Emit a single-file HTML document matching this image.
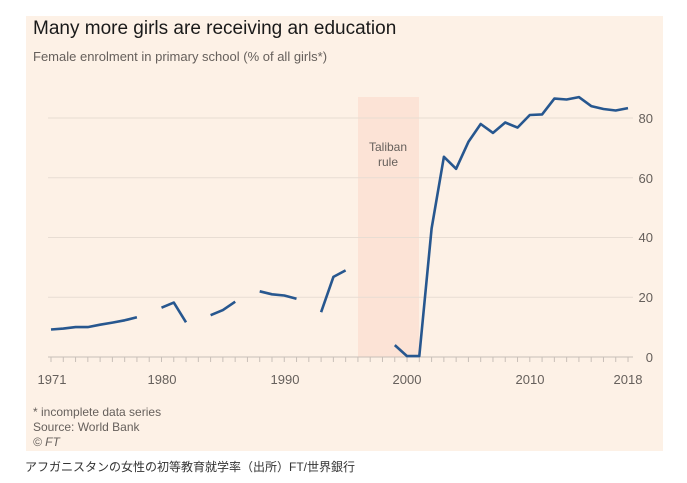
<!DOCTYPE html>
<html><head><meta charset="utf-8"><style>
body{margin:0;background:#fff;}
</style></head><body>
<svg width="687" height="483" xmlns="http://www.w3.org/2000/svg" style="display:block">
<rect x="26" y="16" width="637" height="435" fill="#fdf1e6"/>
<rect x="358" y="97" width="61" height="260" fill="#fce3d6"/>
<g font-family="Liberation Sans, sans-serif">
<text x="33" y="34" font-size="19" fill="#1a1a1a">Many more girls are receiving an education</text>
<text x="33" y="61" font-size="13" fill="#66605c">Female enrolment in primary school (% of all girls*)</text>
<g stroke="#e8ddd3" stroke-width="1">
<line x1="48" x2="633" y1="297.2" y2="297.2"/>
<line x1="48" x2="633" y1="237.5" y2="237.5"/>
<line x1="48" x2="633" y1="177.7" y2="177.7"/>
<line x1="48" x2="633" y1="118" y2="118"/>
</g>
<line x1="48" x2="633" y1="357" y2="357" stroke="#c8bfb8"/>
<g stroke="#c8bfb8" id="ticks"></g>
<text x="388" y="151" font-size="12" fill="#66605c" text-anchor="middle">Taliban</text>
<text x="388" y="166" font-size="12" fill="#66605c" text-anchor="middle">rule</text>
<g font-size="13" fill="#66605c" text-anchor="middle">
<text x="52" y="384">1971</text><text x="162" y="384">1980</text><text x="285" y="384">1990</text><text x="407" y="384">2000</text><text x="530" y="384">2010</text><text x="628" y="384">2018</text>
</g>
<g font-size="13" fill="#66605c" text-anchor="end">
<text x="653" y="362">0</text><text x="653" y="302">20</text><text x="653" y="242">40</text><text x="653" y="183">60</text><text x="653" y="123">80</text>
</g>
<g font-size="12" fill="#66605c">
<text x="33" y="416">* incomplete data series</text>
<text x="33" y="431">Source: World Bank</text>
<text x="33" y="446" font-style="italic">© FT</text>
</g>
<text x="25" y="471" font-size="12" fill="#333" font-family="Liberation Sans, Noto Sans CJK JP, sans-serif">アフガニスタンの女性の初等教育就学率（出所）FT/世界銀行</text>
</g>
<g fill="none" stroke="#27578f" stroke-width="2.6" stroke-linejoin="round" id="lines"></g>
<script>
var X=y=>51+(y-1971)*12.277, Y=v=>357-2.9875*v;
var segs=[[[1971,9.2],[1972,9.5],[1973,10],[1974,10],[1975,10.8],[1976,11.5],[1977,12.3],[1978,13.3]],
[[1980,16.5],[1981,18.2],[1982,11.6]],[[1984,14],[1985,15.7],[1986,18.5]],
[[1988,22],[1989,21],[1990,20.6],[1991,19.5]],[[1993,15],[1994,26.8],[1995,29]],
[[1999,4],[2000,0.3],[2001,0.3],[2002,43],[2003,67],[2004,63],[2005,72],[2006,78],[2007,75],[2008,78.5],[2009,76.8],[2010,81],[2011,81.2],[2012,86.5],[2013,86.2],[2014,87],[2015,84],[2016,83],[2017,82.5],[2018,83.3]]];
var ns="http://www.w3.org/2000/svg",g=document.getElementById('lines');
segs.forEach(s=>{var p=document.createElementNS(ns,'polyline');p.setAttribute('points',s.map(d=>X(d[0]).toFixed(1)+','+Y(d[1]).toFixed(1)).join(' '));g.appendChild(p);});
var t=document.getElementById('ticks');
for(var yr=1971;yr<=2018;yr++){var l=document.createElementNS(ns,'line');l.setAttribute('x1',X(yr));l.setAttribute('x2',X(yr));l.setAttribute('y1',357);l.setAttribute('y2',362);t.appendChild(l);}
</script>
</svg>
</body></html>
